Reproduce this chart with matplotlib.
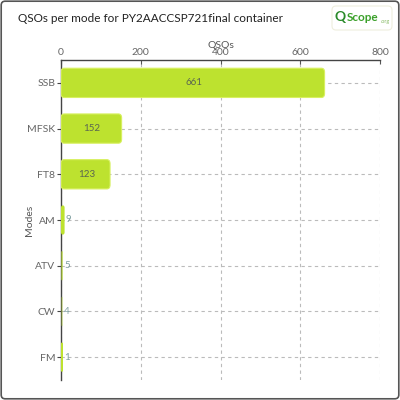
#plot.py: QSOs per mode horizontal bar chart

import matplotlib
matplotlib.use("Agg")
import matplotlib.pyplot as plt
from matplotlib.patches import FancyBboxPatch

plt.rcParams['font.family'] = ['Lato', 'DejaVu Sans']

#QSO counts per mode
modes = ["SSB", "MFSK", "FT8", "AM", "ATV", "CW", "FM"]
qsos = [661, 152, 123, 9, 5, 4, 1]
bar_alpha = [1.0, 1.0, 1.0, 1.0, 0.55, 0.3, 1.0]
x_ticks = [0, 200, 400, 600, 800]

fig = plt.figure(figsize=(4, 4), dpi=100)
ax = fig.add_axes([0.1525, 0.05, 0.7975, 0.80])

bars = ax.barh(modes, qsos, height=0.64, color="#bde22f")
# swap plain bars for rounded ones
for b, a in zip(bars, bar_alpha):
    x, y = b.get_x(), b.get_y()
    w, h = b.get_width(), b.get_height()
    w_draw = max(w, 5)
    r = min(8, w_draw / 2)
    lw = 0.8 if w > 50 else 0
    fb = FancyBboxPatch((x, y), w_draw, h, boxstyle="round,pad=0,rounding_size=%f" % r,
                        mutation_aspect=0.011, facecolor="#bde22f",
                        edgecolor="#d8f060", linewidth=lw, alpha=a, zorder=3)
    ax.add_patch(fb)
    b.set_visible(False)

for i, v in enumerate(qsos):
    if v > 50:
        ax.text(v / 2 + 2, i, str(v), ha="center", va="center", fontsize=7,
                color="#5b6650", zorder=4)
    else:
        ax.text(max(v, 5) + 3, i, str(v), ha="left", va="center", fontsize=7,
                color="#7f9fa0", zorder=4)

ax.set_xlim(0, 800)
ax.set_ylim(6.5, -0.5)
ax.set_xticks(x_ticks)
ax.xaxis.tick_top()
ax.xaxis.set_label_position("top")
ax.set_xlabel("QSOs", fontsize=7.5, color="#555555", labelpad=0.5)
ax.set_ylabel("Modes", fontsize=7.5, color="#555555", labelpad=-5)
ax.tick_params(axis="x", direction="in", length=3, labelsize=7.5, labelcolor="#666666",
               color="#555555", pad=2)
ax.tick_params(axis="y", length=3, labelsize=7.5, labelcolor="#666666", color="#444444", pad=1)

ax.grid(True, linestyle=(0, (3, 3)), color="#bbbbbb", linewidth=0.8, zorder=0)
ax.set_axisbelow(True)
for s in ["right", "bottom"]:
    ax.spines[s].set_visible(False)
for s in ["left", "top"]:
    ax.spines[s].set_color("#444444")
    ax.spines[s].set_linewidth(1)

fig.text(0.045, 0.955, "QSOs per mode for PY2AACCSP721final container", fontsize=8.5,
         color="#222222", va="center", ha="left")

# logo
fig.patches.append(FancyBboxPatch((0.83, 0.925), 0.15, 0.06, boxstyle="round,pad=0,rounding_size=0.01",
                                  transform=fig.transFigure, facecolor="white",
                                  edgecolor="#eeeedd", linewidth=0.8))
fig.text(0.85, 0.957, "Q", fontsize=10, color="#2a8a2a", fontweight="bold", ha="center", va="center")
fig.text(0.866, 0.957, "Scope", fontsize=8.5, color="#3aa02a", fontweight="bold", ha="left", va="center")
fig.text(0.952, 0.945, ".org", fontsize=4, color="#88bb66", ha="left", va="center")

# outer frame
fig.patches.append(FancyBboxPatch((0.003, 0.003), 0.994, 0.994, boxstyle="round,pad=0,rounding_size=0.01",
                                  transform=fig.transFigure, facecolor="none",
                                  edgecolor="#555555", linewidth=1.2))

fig.savefig("out.png", dpi=100)
